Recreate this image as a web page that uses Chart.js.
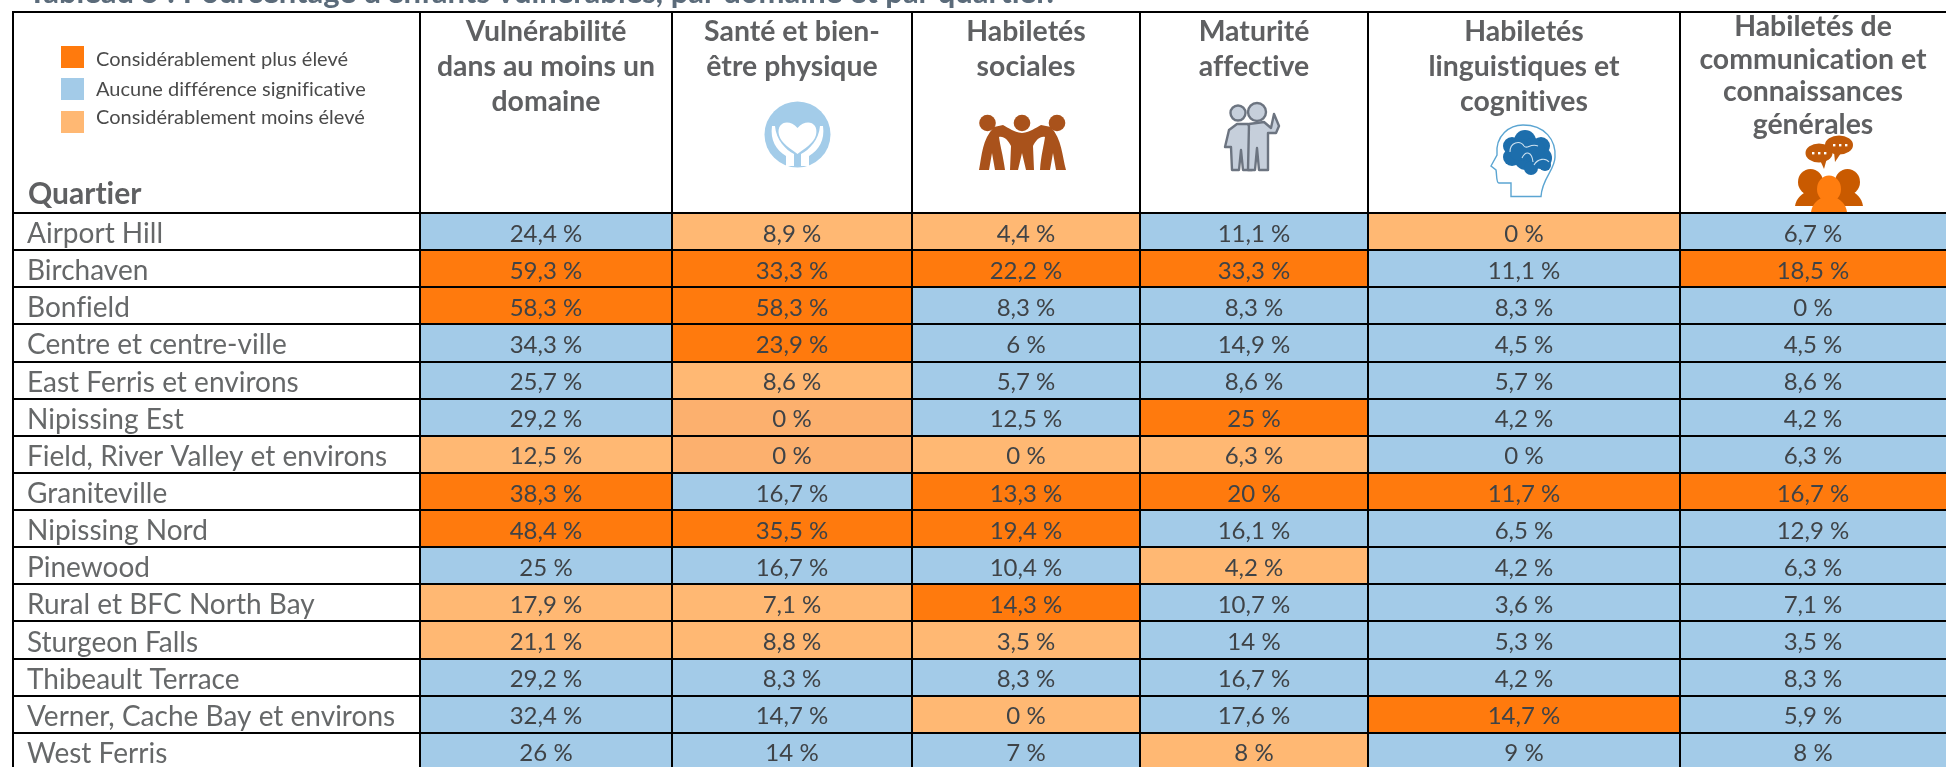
<!DOCTYPE html>
<html lang="fr">
<head>
<meta charset="utf-8">
<title>Tableau 5</title>
<script src="https://cdn.jsdelivr.net/npm/chart.js@4"></script>
<style>
html,body{margin:0;padding:0;background:#fff;width:1946px;height:767px;overflow:hidden}
canvas{display:block}
</style>
</head>
<body>
<canvas id="c" width="1946" height="771"></canvas>
<script>
const quartiers = ["Airport Hill","Birchaven","Bonfield","Centre et centre-ville","East Ferris et environs","Nipissing Est","Field, River Valley et environs","Graniteville","Nipissing Nord","Pinewood","Rural et BFC North Bay","Sturgeon Falls","Thibeault Terrace","Verner, Cache Bay et environs","West Ferris"];
const vulnerabilite = [24.4,59.3,58.3,34.3,25.7,29.2,12.5,38.3,48.4,25,17.9,21.1,29.2,32.4,26];
const sante = [8.9,33.3,58.3,23.9,8.6,0,0,16.7,35.5,16.7,7.1,8.8,8.3,14.7,14];
const sociales = [4.4,22.2,8.3,6,5.7,12.5,0,13.3,19.4,10.4,14.3,3.5,8.3,0,7];
const affective = [11.1,33.3,8.3,14.9,8.6,25,6.3,20,16.1,4.2,10.7,14,16.7,17.6,8];
const cognitives = [0,11.1,8.3,4.5,5.7,4.2,0,11.7,6.5,4.2,3.6,5.3,4.2,14.7,9];
const communication = [6.7,18.5,0,4.5,8.6,4.2,6.3,16.7,12.9,6.3,7.1,3.5,8.3,5.9,8];
// H = plus élevé, N = aucune différence, L = moins élevé, D = moins élevé (teinte plus foncée)
const statutVulnerabilite = "NHHNNNLHHNLLNNN".split("");
const statutSante = "LHHHLDDNHNLLNNN".split("");
const statutSociales = "LHNNNNLHHNHLNLN".split("");
const statutAffective = "NHNNNHLHNLNNNNL".split("");
const statutCognitives = "LNNNNNNHNNNNNHN".split("");
const statutCommunication = "NHNNNNNHNNNNNNN".split("");
const domaines = [
  ["Vulnérabilité","dans au moins un","domaine"],
  ["Santé et bien-","être physique"],
  ["Habiletés","sociales"],
  ["Maturité","affective"],
  ["Habiletés","linguistiques et","cognitives"],
  ["Habiletés de","communication et","connaissances","générales"]
];
const legendeTextes = ["Considérablement plus élevé","Aucune différence significative","Considérablement moins élevé"];
const titre = "Tableau 5 : Pourcentage d’enfants vulnérables, par domaine et par quartier.";

const palette = {H:"#FF7A0D", N:"#A3CBE8", L:"#FFB873", D:"#FCB06E"};
const columnEdges = [13,420,672,912,1140,1368,1680,1946];
const FONT = "Lato, Carlito, 'Open Sans', sans-serif";

class ColumnScale extends Chart.LinearScale {
  getPixelForValue(v){
    const n = columnEdges.length-1;
    const i = Math.max(0,Math.min(n-1,Math.floor(v)));
    const a = columnEdges[i], b = columnEdges[i+1];
    const f = (a+(b-a)*(v-i)-columnEdges[0])/(columnEdges[n]-columnEdges[0]);
    return this.left + f*(this.right-this.left);
  }
}
ColumnScale.id = "columns";
ColumnScale.defaults = Chart.LinearScale.defaults;
Chart.register(ColumnScale);

const series = [vulnerabilite,sante,sociales,affective,cognitives,communication];
const statuts = [statutVulnerabilite,statutSante,statutSociales,statutAffective,statutCognitives,statutCommunication];
const datasets = series.map((vals,c)=>({
  label: domaines[c].join(" "),
  values: vals,
  data: quartiers.map(q=>({y:q,x:[c+1,c+2]})),
  backgroundColor: statuts[c].map(s=>palette[s]),
  borderWidth:0,
  categoryPercentage:1,
  barPercentage:1,
  grouped:false
}));

function icons(ctx){
  ctx.save();
  ctx.fillStyle="#A3CCE9";
  ctx.beginPath();ctx.ellipse(797.5,134.5,33,33,0,0,7);ctx.fill();
  ctx.fillStyle="#fff";
  ctx.beginPath();
  ctx.moveTo(797.5,128);
  ctx.bezierCurveTo(789,118,776,122,779,135);
  ctx.bezierCurveTo(781,143,791,149,797.5,154);
  ctx.bezierCurveTo(804,149,814,143,816,135);
  ctx.bezierCurveTo(819,122,806,118,797.5,128);
  ctx.fill();
  ctx.beginPath();
  ctx.moveTo(772,126);ctx.lineTo(775,126);ctx.bezierCurveTo(776,140,786,150,794,154);
  ctx.lineTo(794,166);ctx.lineTo(786,166);ctx.lineTo(786,156);ctx.bezierCurveTo(776,150,770,140,772,126);
  ctx.fill();
  ctx.beginPath();
  ctx.moveTo(823,126);ctx.lineTo(820,126);ctx.bezierCurveTo(819,140,809,150,801,154);
  ctx.lineTo(801,166);ctx.lineTo(809,166);ctx.lineTo(809,156);ctx.bezierCurveTo(819,150,825,140,823,126);
  ctx.fill();
  ctx.restore();

  ctx.save();
  ctx.fillStyle="#A9521B";
  [987.5,1022,1057].forEach(x=>{ctx.beginPath();ctx.arc(x,123,8.3,0,7);ctx.fill();});
  ctx.beginPath();
  ctx.moveTo(979,170);
  ctx.bezierCurveTo(982,155,982,140,994,127);
  ctx.lineTo(1003,125);
  ctx.bezierCurveTo(1009,128,1013,132,1022,133);
  ctx.bezierCurveTo(1031,132,1035,128,1041,125);
  ctx.lineTo(1051,127);
  ctx.bezierCurveTo(1062,140,1062,155,1066,170);
  ctx.lineTo(1056,170);ctx.lineTo(1053,153);ctx.lineTo(1050,170);
  ctx.lineTo(1040,170);
  ctx.bezierCurveTo(1041,155,1044,145,1045,137);
  ctx.bezierCurveTo(1040,136,1036,140,1033,146);
  ctx.lineTo(1034,170);ctx.lineTo(1026,170);ctx.lineTo(1022,153);ctx.lineTo(1018,170);ctx.lineTo(1010,170);
  ctx.lineTo(1011,146);
  ctx.bezierCurveTo(1008,140,1004,136,999,137);
  ctx.bezierCurveTo(1000,145,1003,155,1005,170);
  ctx.lineTo(995,170);ctx.lineTo(992,153);ctx.lineTo(989,170);
  ctx.closePath();
  ctx.fill();
  ctx.restore();

  ctx.save();
  ctx.fillStyle="#C6CFDB";ctx.strokeStyle="#6C7480";ctx.lineWidth=2.4;ctx.lineJoin="round";
  ctx.beginPath();ctx.arc(1238,113,7.5,0,7);ctx.fill();ctx.stroke();
  ctx.beginPath();
  ctx.moveTo(1225,147);ctx.lineTo(1229,130);ctx.lineTo(1237,124);ctx.lineTo(1248,124);ctx.lineTo(1252,132);ctx.lineTo(1252,170);ctx.lineTo(1243,170);ctx.lineTo(1241,150);ctx.lineTo(1239,170);ctx.lineTo(1232,170);ctx.lineTo(1231,147);ctx.closePath();
  ctx.fill();ctx.stroke();
  ctx.beginPath();ctx.arc(1257,112,9,0,7);ctx.fill();ctx.stroke();
  ctx.beginPath();
  ctx.moveTo(1249,124);ctx.lineTo(1264,122);ctx.lineTo(1271,128);ctx.lineTo(1274,114);ctx.lineTo(1279,126);ctx.lineTo(1276,133);ctx.lineTo(1268,133);ctx.lineTo(1268,170);ctx.lineTo(1259,170);ctx.lineTo(1257,148);ctx.lineTo(1255,170);ctx.lineTo(1248,170);ctx.closePath();
  ctx.fill();ctx.stroke();
  ctx.restore();

  ctx.save();
  ctx.strokeStyle="#5BA5D2";ctx.lineWidth=1.4;
  ctx.beginPath();
  ctx.moveTo(1511,196.5);ctx.lineTo(1511,183);ctx.lineTo(1499,183);
  ctx.bezierCurveTo(1496,183,1497,175,1496,170);
  ctx.lineTo(1491,166);ctx.lineTo(1497,155);
  ctx.bezierCurveTo(1495,135,1510,125,1523,125);
  ctx.bezierCurveTo(1545,125,1556,140,1555,157);
  ctx.bezierCurveTo(1555,170,1542,178,1541,196.5);
  ctx.closePath();ctx.stroke();
  ctx.fillStyle="#1D6EAC";
  [[1512,146,9],[1525,141,11],[1541,146,9],[1512,157,9],[1526,158,12],[1541,158,11],[1533,150,12],[1520,150,11],[1545,165,6],[1531,168,7]].forEach(b=>{ctx.beginPath();ctx.arc(b[0],b[1],b[2],0,7);ctx.fill();});
  ctx.strokeStyle="#CFE2F0";ctx.lineWidth=1.1;
  ctx.beginPath();ctx.moveTo(1510,152);ctx.bezierCurveTo(1510,142,1520,140,1524,146);ctx.bezierCurveTo(1527,150,1530,143,1538,146);ctx.stroke();
  ctx.beginPath();ctx.moveTo(1522,158);ctx.bezierCurveTo(1526,150,1532,152,1533,162);ctx.stroke();
  ctx.beginPath();ctx.moveTo(1534,165);ctx.bezierCurveTo(1538,158,1546,158,1549,162);ctx.stroke();
  ctx.restore();

  ctx.save();
  ctx.fillStyle="#C25A08";
  ctx.beginPath();ctx.ellipse(1819,153,13.5,9.5,0,0,7);ctx.fill();
  ctx.beginPath();ctx.moveTo(1820,160);ctx.lineTo(1824,169);ctx.lineTo(1827,158);ctx.fill();
  ctx.beginPath();ctx.ellipse(1839,145,14,9.5,0,0,7);ctx.fill();
  ctx.beginPath();ctx.moveTo(1834,152);ctx.lineTo(1835,162);ctx.lineTo(1841,153);ctx.fill();
  ctx.fillStyle="#fff";
  [1812,1818,1824,1833,1839,1845].forEach((x,i)=>{ctx.fillRect(x,i<3?152:144,2.4,2.4);});
  ctx.fillStyle="#C95A00";
  [1810.5,1847.5].forEach(x=>{ctx.beginPath();ctx.ellipse(x,182,12.5,13,0,0,7);ctx.fill();});
  ctx.beginPath();ctx.moveTo(1795,206);ctx.bezierCurveTo(1796,198,1803,193,1808,191);ctx.lineTo(1851,191);ctx.bezierCurveTo(1856,193,1862,198,1863,206);ctx.closePath();ctx.fill();
  ctx.fillStyle="#FF7D0F";
  ctx.beginPath();ctx.ellipse(1829,189,12,13.5,0,0,7);ctx.fill();
  ctx.beginPath();ctx.moveTo(1811,212);ctx.bezierCurveTo(1812,204,1818,199,1824,197);ctx.lineTo(1834,197);ctx.bezierCurveTo(1840,199,1846,204,1847,212);ctx.closePath();ctx.fill();
  ctx.restore();
}

const tablePlugin = {
  id:"tableau",
  beforeDraw(chart){ chart.ctx.letterSpacing="0.01px"; },
  afterDatasetsDraw(chart){
    const ctx = chart.ctx, x = chart.scales.x, a = chart.chartArea;
    ctx.save();
    ctx.font = "24px "+FONT;
    ctx.fillStyle = "#3F4347";
    ctx.textAlign = "center";
    ctx.textBaseline = "alphabetic";
    chart.data.datasets.forEach((ds,i)=>{
      chart.getDatasetMeta(i).data.forEach((bar,r)=>{
        const t = String(ds.values[r]).replace(".",",")+" %";
        ctx.fillText(t,(bar.x+bar.base)/2,bar.y+10);
      });
    });
    ctx.textAlign="left";
    ctx.font="bold 31px "+FONT;
    ctx.fillStyle="#5B6B7A";
    ctx.fillText(titre,28,3);
    ctx.strokeStyle="#000";ctx.lineWidth=2;
    ctx.beginPath();
    ctx.moveTo(a.left-1,12);ctx.lineTo(1946,12);
    for(let c=0;c<7;c++){const p=Math.round(x.getPixelForValue(c));ctx.moveTo(p,11);ctx.lineTo(p,a.top);}
    ctx.stroke();
    ctx.textAlign="center";
    ctx.fillStyle="#5F6062";
    ctx.font="bold 28.4px "+FONT;
    domaines.forEach((lines,c)=>{
      const cx=(x.getPixelForValue(c+1)+x.getPixelForValue(c+2))/2;
      const four=lines.length===4;
      lines.forEach((l,k)=>ctx.fillText(l,cx,four?36+k*32.6:41+k*35));
    });
    ctx.textAlign="left";
    ctx.font="bold 30px "+FONT;
    ctx.fillText("Quartier",28,204);
    ctx.font="20px "+FONT;
    [["H",46,66],["N",78,96],["L",111,124]].forEach((e,i)=>{
      ctx.fillStyle=palette[e[0]];
      ctx.fillRect(61,e[1],23,22);
      ctx.fillStyle="#4A4A4A";
      ctx.fillText(legendeTextes[i],96,e[2]);
    });
    icons(ctx);
    ctx.restore();
  }
};

new Chart(document.getElementById("c"),{
  type:"bar",
  data:{labels:quartiers,datasets},
  options:{
    indexAxis:"y",
    responsive:false,
    animation:false,
    events:[],
    layout:{padding:{left:13,top:213,right:0,bottom:1}},
    plugins:{legend:{display:false},tooltip:{enabled:false}},
    scales:{
      x:{
        type:"columns",min:0,max:7,position:"bottom",
        afterFit(s){s.height=0;s.paddingBottom=0;s.paddingTop=0;},
        border:{display:false},
        ticks:{display:false,stepSize:1,autoSkip:false},
        grid:{z:1,lineWidth:2,drawTicks:false,tickLength:0,
          color:c=>c.index===7?"rgba(0,0,0,0)":"#000"}
      },
      y:{
        type:"category",offset:true,
        afterFit(s){s.width=0;s.paddingBottom=0;s.paddingTop=0;},
        border:{display:false},
        ticks:{mirror:true,padding:14,labelOffset:2.5,color:"#666869",font:{family:FONT,size:28},autoSkip:false},
        grid:{z:1,lineWidth:2,color:"#000",offset:true,drawTicks:false,tickLength:0}
      }
    }
  },
  plugins:[tablePlugin]
});
</script>
</body>
</html>
